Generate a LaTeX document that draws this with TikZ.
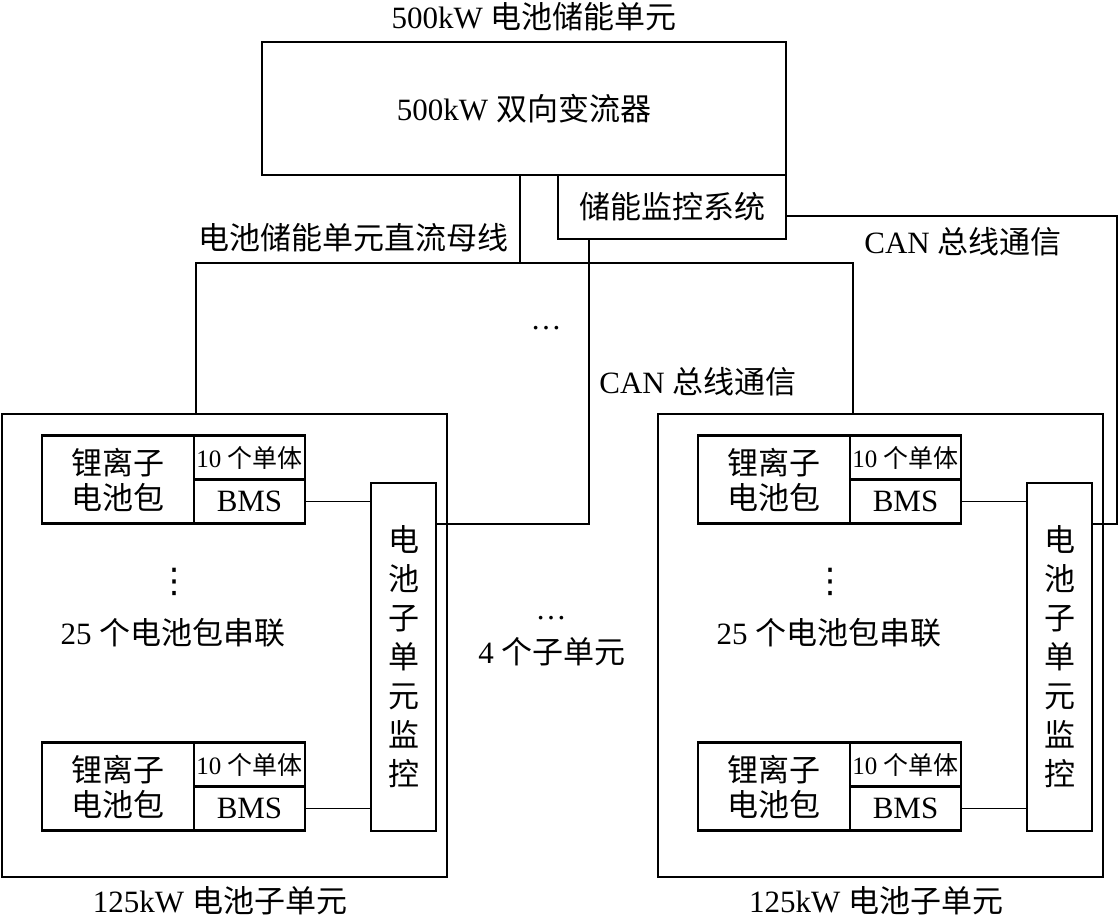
\documentclass[tikz,border=0pt]{standalone}
\usepackage{fontspec}
\setmainfont{Liberation Serif}
\newfontfamily\cjk{Noto Sans CJK SC}
\newfontfamily\symf{DejaVu Sans}
\usepackage{tikz}
\usetikzlibrary{positioning}

\newcommand{\zh}[1]{{\cjk #1}}

\tikzset{
  thickbox/.style={draw, line width=2.8pt, inner sep=0pt, align=center},
  thinbox/.style={draw, line width=1.5pt, inner sep=0pt},
  wire/.style={line width=1.5pt},
  lbl/.style={font=\fontsize{31}{35}\selectfont, align=center},
  cn/.style={font=\cjk\fontsize{31}{35}\selectfont, align=center},
  celltxt/.style={font=\fontsize{25}{28}\selectfont},
  dotstxt/.style={font=\fontsize{31}{35}\selectfont, inner sep=0pt},
  vdotstxt/.style={font=\symf\fontsize{34}{38}\selectfont, inner sep=0pt},
}

\begin{document}
\begin{tikzpicture}[x=1pt, y=-1pt]
  \useasboundingbox (0,0) rectangle (1119,921);

  % converter and monitoring
  \node[lbl] (title) at (534,17) {500kW \zh{电池储能单元}};
  \node[thickbox, lbl, minimum width=524pt, minimum height=133pt] (pcs) at (524,108.5) {500kW \zh{双向变流器}};
  \node[thickbox, cn, minimum width=228pt, minimum height=64pt] (ems) at (672,207) {储能监控系统};

  \coordinate (busM) at (520,263);
  \coordinate (busL) at (196,263);
  \coordinate (busR) at (853,263);
  \coordinate (canM) at (589,524);
  \coordinate (canR) at (1117,216);

  \node[cn] (buslbl) at (353,238) {电池储能单元直流母线};
  \node[lbl] (canlbl1) at (963,242) {CAN \zh{总线通信}};
  \node[lbl] (canlbl2) at (698,382) {CAN \zh{总线通信}};
  \node[dotstxt] (dotsT) at (546,328) {…};
  \node[dotstxt] (dotsM) at (551,618) {…};
  \node[lbl] (nsub) at (552,652) {4 \zh{个子单元}};

  % the two 125kW sub-units
  \foreach \s/\dx in {A/0,B/656} {
    \begin{scope}[xshift=\dx pt]
      \node[thinbox, minimum width=445pt, minimum height=463pt] (sub\s) at (224.5,645.5) {};
      \node[lbl] (sublbl\s) at (220,901) {125kW \zh{电池子单元}};
      % top pack
      \node[thickbox, cn, minimum width=152pt, minimum height=88pt] (li\s1) at (118,479.5) {锂离子\\电池包};
      \node[thickbox, celltxt, minimum width=111pt, minimum height=44pt] (cell\s1) at (249.5,457.5) {10 \zh{个单体}};
      \node[thickbox, lbl, minimum width=111pt, minimum height=44pt] (bms\s1) at (249.5,501.5) {BMS};
      % bottom pack
      \node[thickbox, cn, minimum width=152pt, minimum height=88pt] (li\s2) at (118,786.5) {锂离子\\电池包};
      \node[thickbox, celltxt, minimum width=111pt, minimum height=44pt] (cell\s2) at (249.5,764.5) {10 \zh{个单体}};
      \node[thickbox, lbl, minimum width=111pt, minimum height=44pt] (bms\s2) at (249.5,808.5) {BMS};
      \node[vdotstxt] (vdots\s) at (174,582) {⋮};
      \node[lbl] (series\s) at (173,633) {25 \zh{个电池包串联}};
      % sub-unit monitor
      \node[thickbox, font=\cjk\fontsize{31}{39}\selectfont, minimum width=65pt, minimum height=348pt] (mon\s) at (403.5,657) {电\\池\\子\\单\\元\\监\\控};
      \draw[wire] (bms\s1.east) -- (mon\s.west |- bms\s1.east);
      \draw[wire] (bms\s2.east) -- (mon\s.west |- bms\s2.east);
    \end{scope}
  }

  % DC bus
  \draw[wire] (pcs.south -| busM) -- (busM);
  \draw[wire] (subA.north -| busL) -- (busL) -- (busR) -- (subB.north -| busR);
  % CAN bus
  \draw[wire] (ems.south -| canM) -- (canM) -- (monA.east |- canM);
  \draw[wire] (ems.east |- canR) -- (canR) -- (canR |- canM) -- (monB.east |- canM);
\end{tikzpicture}
\end{document}
